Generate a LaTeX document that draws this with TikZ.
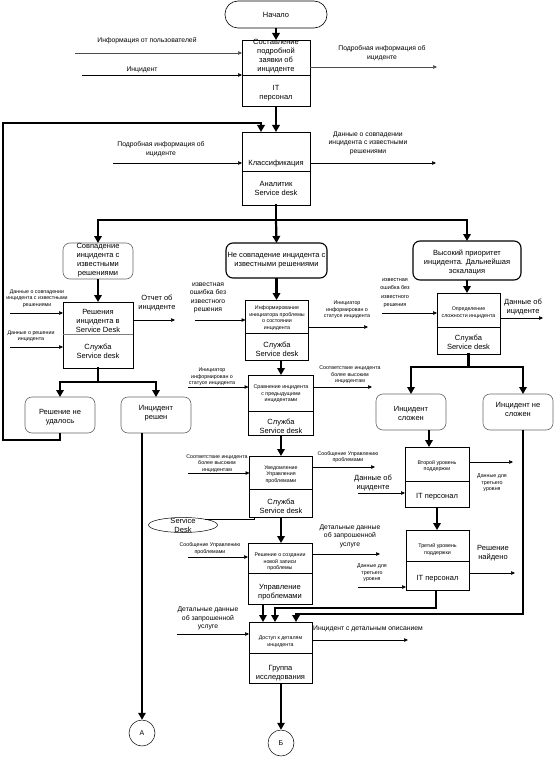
\documentclass[tikz,border=0pt]{standalone}
\usepackage{fontspec}
\setmainfont{Liberation Sans}
\usetikzlibrary{arrows.meta,shapes.geometric,calc}
\begin{document}
\begin{tikzpicture}[x=1pt,y=-1pt,
 box/.style={draw, line width=0.6pt, inner sep=0pt, outer sep=0pt},
 rbox/.style={draw, line width=1.1pt, rounded corners=7pt, inner sep=0pt, outer sep=0pt},
 gbox/.style={draw=black!60, line width=0.6pt, rounded corners=7pt, inner sep=0pt, outer sep=0pt},
 div/.style={line width=0.5pt},
 fA/.style={font=\fontsize{7.5}{9}\selectfont, align=center, inner sep=0pt},
 fB/.style={font=\fontsize{5.3}{6.5}\selectfont, align=center, inner sep=0pt},
 fC/.style={font=\fontsize{6.8}{8.5}\selectfont, align=center, inner sep=0pt},
 tarr/.style={line width=0.5pt, -{Triangle[length=4pt,width=3.5pt]}},
 tline/.style={line width=0.5pt},
 kline/.style={line width=2.2pt, line cap=rect},
 karr/.style={line width=2.2pt, -{Triangle[length=7pt,width=7.5pt]}},
 circ/.style={draw, circle, minimum size=26pt, inner sep=0pt, line width=0.5pt, font=\fontsize{7}{8}\selectfont}]
\useasboundingbox (0,0) rectangle (556,757);

% ---------- top ----------
\node[gbox, draw=black, rounded corners=13pt, minimum width=102, minimum height=27, fA] (start) at (276,14.5) {Начало};

\node[box, minimum width=68, minimum height=66] (b1) at (276,73) {};
\draw[div] (b1.west |- 0,75) -- (b1.east |- 0,75);
\node[fA] (b1t) at (276,56.5) {Составление\\подробной\\заявки об\\инциденте};
\node[fA] (b1b) at (276,93) {IT\\персонал};

\node[box, minimum width=68, minimum height=73] (b2) at (276,168.5) {};
\draw[div] (b2.west |- 0,171) -- (b2.east |- 0,171);
\node[fA] (b2t) at (276,164) {Классификация};
\node[fA] (b2b) at (276,188.5) {Аналитик\\Service desk};

\draw[karr] (start.south) -- (b1.north);
\draw[karr] (b1.south) -- (b2.north);

% b1 inputs / outputs
\coordinate (i1) at (75,53);
\draw[tarr, black!70] (i1) -- (i1 -| b1.west);
\node[fC] (i1t) at (147,41) {Информация от пользователей};
\coordinate (i2) at (82,75);
\draw[tarr] (i2) -- (i2 -| b1.west);
\node[fC] (i2t) at (142,70) {Инцидент};
\coordinate (o1) at (437,67);
\draw[tarr, black!70] (o1 -| b1.east) -- (o1);
\node[fC] (o1t) at (382,53) {Подробная информация об\\ициденте};

% b2 inputs / outputs
\coordinate (i3) at (113,163);
\draw[tarr] (i3) -- (i3 -| b2.west);
\node[fC] (i3t) at (161,149) {Подробная информация об\\ициденте};
\coordinate (o2) at (436,163);
\draw[tarr] (o2 -| b2.east) -- (o2);
\node[fC] (o2t) at (368,143) {Данные о совпадении\\инцидента с известными\\решениями};

% ---------- second row (rounded) ----------
\node[gbox, minimum width=70, minimum height=36] (r1) at (98,261) {};
\node[fA] (r1t) at (98,260.5) {Совпадение\\инцидента с\\известными\\решениями};
\node[rbox, minimum width=101, minimum height=35] (r2) at (276.5,260.5) {};
\node[fA] (r2t) at (276.5,260.5) {Не совпадение инцидента с\\известными решениями};
\node[rbox, minimum width=108, minimum height=39] (r3) at (467,260.5) {};
\node[fA] (r3t) at (467,262) {Высокий приоритет\\инцидента. Дальнейшая\\эскалация};

\draw[kline] (b2.south) -- ++(0,15) coordinate (br);
\draw[kline] (br -| r1.north) -- (br -| r3.north);
\draw[karr] (br -| r1.north) -- (r1.north);
\draw[karr] (br) -- (r2.north);
\draw[karr] (br -| r3.north) -- (r3.north);

% ---------- left column ----------
\node[box, minimum width=70, minimum height=66] (L1) at (98,335) {};
\draw[div, black!50] (L1.west |- 0,334) -- (L1.east |- 0,334);
\node[fA] (L1t) at (98,321) {Решения\\инцидента в\\Service Desk};
\node[fA] (L1b) at (98,351.5) {Служба\\Service desk};
\draw[karr] (r1.south) -- (L1.north);

\coordinate (i4) at (10,313);
\draw[tarr] (i4) -- (i4 -| L1.west);
\node[fB] (i4t) at (37,298.5) {Данные о совпадении\\инцидента с известными\\решениями};
\coordinate (i5) at (10,347);
\draw[tarr] (i5) -- (i5 -| L1.west);
\node[fB] (i5t) at (31,336) {Данные о решении\\инцидента};
\coordinate (o3) at (175,320);
\draw[tarr] (o3 -| L1.east) -- (o3);
\node[fA] (o3t) at (157,302.5) {Отчет об\\инциденте};

\node[gbox, minimum width=70, minimum height=36] (L2) at (60,415) {};
\node[fA] (L2t) at (60,417.5) {Решение не\\удалось};
\node[gbox, minimum width=70, minimum height=36] (L3) at (156,415) {};
\node[fA] (L3t) at (156,413.5) {Инцидент\\решен};

\draw[kline] (L1.south) -- ++(0,14) coordinate (ls);
\draw[kline] (ls -| L2.north) -- (ls -| L3.north);
\draw[karr] (ls -| L2.north) -- (L2.north);
\draw[karr] (ls -| L3.north) -- (L3.north);

\coordinate (lp) at (3,123);
\draw[karr] (L2.south) -- ++(0,7) -| (lp) -| ([xshift=-15pt]b2.north);

\node[circ] (A) at (142,733) {А};
\draw[karr] (L3.south -| A.north) -- (A.north);

% ---------- middle column ----------
\node[box, minimum width=63, minimum height=60] (m1) at (277,330) {};
\draw[div] (m1.west |- 0,333) -- (m1.east |- 0,333);
\node[fB] (m1t) at (277,318) {Информирование\\инициатора проблемы\\о состоянии\\инцидента};
\node[fA] (m1b) at (277,349.5) {Служба\\Service desk};
\draw[karr] (r2.south) -- (r2.south |- m1.north);

\coordinate (i6) at (195,320);
\draw[tarr] (i6) -- (i6 -| m1.west);
\node[fC] (i6t) at (208,298) {известная\\ошибка без\\известного\\решения};
\coordinate (o4) at (368,327);
\draw[tarr] (o4 -| m1.east) -- (o4);
\node[fB] (o4t) at (347,310) {Инициатор\\информирован о\\статусе инцидента};

\node[box, minimum width=65, minimum height=60] (m2) at (281,405) {};
\draw[div] (m2.west |- 0,411) -- (m2.east |- 0,411);
\node[fB] (m2t) at (281,394) {Сравнение инцидента\\с предыдущими\\инцидентами};
\node[fA] (m2b) at (281,426.5) {Служба\\Service desk};
\draw[karr] (m1.south -| m2.north) -- (m2.north);

\coordinate (i7) at (188,387);
\draw[tarr] (i7) -- (i7 -| m2.west);
\node[fB] (i7t) at (212,377) {Инициатор\\информирован о\\статусе инцидента};
\coordinate (o5) at (372,387);
\draw[tarr] (o5 -| m2.east) -- (o5);
\node[fB] (o5t) at (350,375) {Соответствие инцидента\\более высоким\\инцидентам};

\node[box, minimum width=63, minimum height=61] (m3) at (281,486.5) {};
\draw[div] (m3.west |- 0,489) -- (m3.east |- 0,489);
\node[fB] (m3t) at (281,474.5) {Уведомление\\Управления\\проблемами};
\node[fA] (m3b) at (281,506.5) {Служба\\Service desk};
\draw[karr] (m2.south) -- (m3.north);

\coordinate (i8) at (188,473);
\draw[tarr] (i8) -- (i8 -| m3.west);
\node[fB] (i8t) at (217,463.5) {Соответствие инцидента\\более высоким\\инцидентам};
\coordinate (o6) at (375,467);
\draw[tarr] (o6 -| m3.east) -- (o6);
\node[fB] (o6t) at (348,457) {Сообщение Управлению\\проблемами};

\node[draw, ellipse, line width=0.5pt, minimum width=69, minimum height=15, inner sep=0pt] (sd) at (183,525) {};
\node[fA] (sdt) at (183,525.5) {Service\\Desk};
\draw[tline] (sd.15) -| ([xshift=5pt]m3.south west);

\node[box, minimum width=64, minimum height=61] (m4) at (280,573.5) {};
\draw[div] (m4.west |- 0,573) -- (m4.east |- 0,573);
\node[fB] (m4t) at (280,562) {Решение о создании\\новой записи\\проблемы};
\node[fA] (m4b) at (280,592.5) {Управление\\проблемами};
\draw[karr] (m3.south) -- (m3.south |- m4.north);

\coordinate (i9) at (188,557);
\draw[tarr] (i9) -- (i9 -| m4.west);
\node[fB] (i9t) at (210,548.5) {Сообщение Управлению\\проблемами};
\coordinate (o7) at (380,554);
\draw[tarr] (o7 -| m4.east) -- (o7);
\node[fC] (o7t) at (350,536) {Детальные данные\\об запрошенной\\услуге};

\node[box, minimum width=63, minimum height=61] (m5) at (280.5,652.5) {};
\draw[div] (m5.west |- 0,653) -- (m5.east |- 0,653);
\node[fB] (m5t) at (280.5,641.5) {Доступ к деталям\\инцидента};
\node[fA] (m5b) at (280.5,673) {Группа\\исследования};
\draw[karr] ([xshift=-17pt]m4.south) -- ([xshift=-17pt]m4.south |- m5.north);

\coordinate (i10) at (177,634);
\draw[tarr] (i10) -- (i10 -| m5.west);
\node[fC] (i10t) at (208,618.5) {Детальные данные\\об запрошенной\\услуге};
\coordinate (o8) at (408,640);
\draw[tarr] (o8 -| m5.east) -- (o8);
\node[fC, anchor=west] (o8t) at (313,629) {Инцидент с детальным описанием};

\node[circ] (B) at (281,743) {Б};
\draw[karr] (m5.south -| B.north) -- (B.north);

% ---------- right column ----------
\node[box, minimum width=63, minimum height=61] (R1) at (468.5,323.5) {};
\draw[div] (R1.west |- 0,327) -- (R1.east |- 0,327);
\node[fB] (R1t) at (468.5,312.5) {Определение\\сложности инцидента};
\node[fA] (R1b) at (468.5,342.5) {Служба\\Service desk};
\draw[karr] (r3.south) -- (r3.south |- R1.north);

\coordinate (i11) at (382,313);
\draw[tarr] (i11) -- (i11 -| R1.west);
\node[font=\fontsize{5.5}{8.3}\selectfont, align=center, inner sep=0pt] (i11t) at (395,293) {известная\\ошибка без\\известного\\решения};
\coordinate (o9) at (543,318);
\draw[tarr] (o9 -| R1.east) -- (o9);
\node[fA] (o9t) at (523,307) {Данные об\\ициденте};

\node[gbox, minimum width=70, minimum height=36] (R2) at (411,412) {};
\node[fA] (R2t) at (411,413.5) {Инцидент\\сложен};
\node[gbox, minimum width=70, minimum height=36] (R3) at (518,412) {};
\node[fA] (R3t) at (518,409) {Инцидент не\\сложен};
\coordinate (R3n) at ([xshift=5pt]R3.north);
\coordinate (R3s) at ([xshift=5pt]R3.south);

\draw[kline] (R1.south) -- ++(0,13) coordinate (rs);
\draw[kline] (rs -| R2.north) -- (rs -| R3n);
\draw[karr] (rs -| R2.north) -- (R2.north);
\draw[karr] (rs -| R3n) -- (R3n);

\node[box, minimum width=64, minimum height=60] (R4) at (437,477) {};
\draw[div] (R4.west |- 0,481) -- (R4.east |- 0,481);
\node[fB] (R4t) at (437,466) {Второй уровень\\поддержки};
\node[fA] (R4b) at (437,497) {IT персонал};
\draw[karr] ([xshift=18pt]R2.south) -- ([xshift=18pt]R2.south |- R4.north);

\coordinate (i12) at (358,493);
\draw[tarr] (i12) -- (i12 -| R4.west);
\node[fA] (i12t) at (373,482.5) {Данные об\\ициденте};
\coordinate (o10) at (513,462);
\draw[tarr] (o10 -| R4.east) -- (o10);
\node[fB] (o10t) at (492,483) {Данные для\\третьего\\уровня};

\node[box, minimum width=63, minimum height=60] (R5) at (437.5,560) {};
\draw[div] (R5.west |- 0,561) -- (R5.east |- 0,561);
\node[fB] (R5t) at (437.5,549.5) {Третий уровень\\поддержки};
\node[fA] (R5b) at (437.5,579) {IT персонал};
\draw[karr] (R4.south) -- (R4.south |- R5.north);

\coordinate (i13) at (358,587);
\draw[tarr] (i13) -- (i13 -| R5.west);
\node[fB] (i13t) at (372,573) {Данные для\\третьего\\уровня};
\coordinate (o11) at (515,573);
\draw[tarr] (o11 -| R5.east) -- (o11);
\node[fA] (o11t) at (493,553.5) {Решение\\найдено};

% ---------- returns into m5 ----------
\draw[karr] ([xshift=-1.5pt]R5.south) -- ++(0,18) -| ([xshift=-5.5pt]m5.north);
\draw[karr] (R3s) -- ++(0,184) -| ([xshift=15.5pt]m5.north);

\end{tikzpicture}
\end{document}
